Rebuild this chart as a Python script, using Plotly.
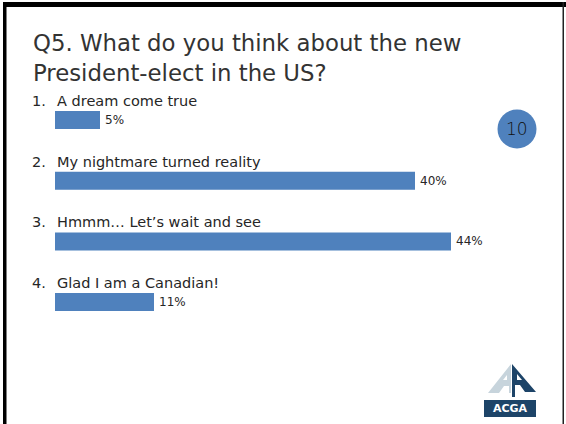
import plotly.graph_objects as go

# Survey question, answers and results (percent of respondents)
question_lines = ["Q5. What do you think about the new", "President-elect in the US?"]
answers = ["A dream come true", "My nightmare turned reality",
           "Hmmm\u2026 Let\u2019s wait and see", "Glad I am a Canadian!"]
percents = [5, 40, 44, 11]
slide_number = "10"

W, H = 566, 424
FONT = "DejaVu Sans"
TEXT = "#262626"
BLUE = "#4F81BD"


def px(x):
    return x / W


def py(y):
    return 1 - y / H


# pixel geometry of the bar area
x0_px, px_per_unit = 55.0, 9.0
y0_px, px_per_row = 120.0, 60.7
bar_h = 18.0

x_range = [-x0_px / px_per_unit, (W - x0_px) / px_per_unit]
y_range = [(H - y0_px) / px_per_row, -y0_px / px_per_row]

rows = list(range(len(answers)))

fig = go.Figure(go.Bar(
    x=percents, y=rows, orientation="h",
    marker=dict(color=BLUE, line=dict(width=0)),
    width=bar_h / px_per_row,
    hoverinfo="skip",
))

ann = []
for i, line in enumerate(question_lines):
    ann.append(dict(text=line, xref="paper", yref="paper",
                    x=px(31), y=py(43 + 30 * i), xanchor="left", yanchor="middle",
                    showarrow=False,
                    font=dict(family=FONT, size=22.8, color="#333333")))

for i, (a, v) in enumerate(zip(answers, percents)):
    ann.append(dict(text=f"{i + 1}.", xref="paper", yref="y",
                    x=px(30), y=i, yshift=19, xanchor="left", yanchor="middle",
                    showarrow=False, font=dict(family=FONT, size=14.5, color=TEXT)))
    ann.append(dict(text=a, xref="x", yref="y",
                    x=0, y=i, yshift=19, xanchor="left", yanchor="middle",
                    showarrow=False, font=dict(family=FONT, size=14.5, color=TEXT)))
    ann.append(dict(text=f"{v}%", xref="x", yref="y",
                    x=v, y=i, xshift=3, xanchor="left", yanchor="middle",
                    showarrow=False, font=dict(family=FONT, size=12, color=TEXT)))

# slide number badge
cx, cy, r = 517, 129, 19.5
ann.append(dict(text=slide_number, xref="paper", yref="paper",
                x=px(cx), y=py(cy), xanchor="center", yanchor="middle",
                showarrow=False, font=dict(family=FONT, size=17, color="#111111", weight=300)))

# ACGA wordmark
ann.append(dict(text="<b>ACGA</b>", xref="paper", yref="paper",
                x=px(510), y=py(408.5), xanchor="center", yanchor="middle",
                showarrow=False, font=dict(family="DejaVu Sans", size=11, color="white")))

shapes = [
    # slide frame
    dict(type="rect", xref="paper", yref="paper", x0=px(3), x1=px(W), y0=py(2), y1=py(7),
         fillcolor="black", line=dict(width=0), layer="above"),
    dict(type="rect", xref="paper", yref="paper", x0=px(3), x1=px(6.5), y0=py(2), y1=py(H),
         fillcolor="black", line=dict(width=0), layer="above"),
    dict(type="rect", xref="paper", yref="paper", x0=px(562.5), x1=px(564), y0=py(2), y1=py(H),
         fillcolor="#222222", line=dict(width=0), layer="above"),
    # badge circle
    dict(type="circle", xref="paper", yref="paper", x0=px(cx - r), x1=px(cx + r),
         y0=py(cy + r), y1=py(cy - r), fillcolor=BLUE, line=dict(width=0), layer="below"),
]


def path(points):
    return "M " + " L ".join(f"{px(x)},{py(y)}" for x, y in points) + " Z"


# logo: light and dark halves of the "A" mark, then the wordmark plate
shapes += [
    dict(type="path", xref="paper", yref="paper",
         path=path([(511, 364), (488, 393), (499, 393), (504, 386), (509, 386), (509, 393), (511, 393)]),
         fillcolor="#C7D4DC", line=dict(width=0)),
    dict(type="path", xref="paper", yref="paper",
         path=path([(512, 364), (536, 392), (525, 392), (520, 385), (515, 385), (515, 397), (512, 397)]),
         fillcolor="#1D4468", line=dict(width=0)),
    dict(type="path", xref="paper", yref="paper",
         path=path([(503, 380), (507, 375), (507, 380)]),
         fillcolor="white", line=dict(width=0)),
    dict(type="path", xref="paper", yref="paper",
         path=path([(517, 374), (522, 380), (517, 380)]),
         fillcolor="white", line=dict(width=0)),
    dict(type="rect", xref="paper", yref="paper", x0=px(484), x1=px(536), y0=py(417), y1=py(400),
         fillcolor="#1D4468", line=dict(width=0)),
]

fig.update_layout(
    width=W, height=H, margin=dict(l=0, r=0, t=0, b=0),
    paper_bgcolor="white", plot_bgcolor="white",
    showlegend=False,
    xaxis=dict(range=x_range, visible=False, fixedrange=True),
    yaxis=dict(range=y_range, visible=False, fixedrange=True),
    annotations=ann, shapes=shapes,
)

fig.write_html("out.html")
